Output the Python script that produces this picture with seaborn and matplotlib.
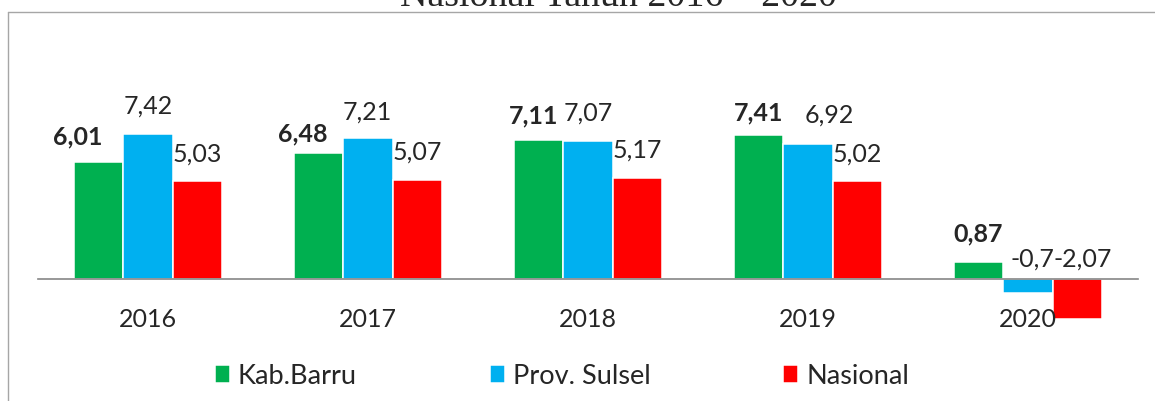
import pandas as pd
import numpy as np

import matplotlib.pyplot as plt
from matplotlib.lines import Line2D
import seaborn as sns

import warnings
warnings.filterwarnings('ignore')

# data
tahun = ['2016', '2017', '2018', '2019', '2020']
kab_barru = [6.01, 6.48, 7.11, 7.41, 0.87]
prov_sulsel = [7.42, 7.21, 7.07, 6.92, -0.70]
nasional = [5.03, 5.07, 5.17, 5.02, -2.07]
label_kab = ['6,01', '6,48', '7,11', '7,41', '0,87']
label_prov = ['7,42', '7,21', '7,07', '6,92', '-0,7']
label_nas = ['5,03', '5,07', '5,17', '5,02', '-2,07']
wilayah = ['Kab.Barru', 'Prov. Sulsel', 'Nasional']
warna = ['#00B050', '#00B0F0', '#FF0000']

df = pd.DataFrame({
    'tahun': tahun * 3,
    'nilai': kab_barru + prov_sulsel + nasional,
    'wilayah': [w for w in wilayah for _ in tahun],
})

sns.set_style('white')
plt.rcParams['font.family'] = ['Lato', 'DejaVu Sans']

fig = plt.figure(figsize=(11.55, 4.01), dpi=100)
ax = fig.add_axes([38 / 1155, 1 - 330 / 401, 1100 / 1155, 290 / 401])

sns.barplot(data=df, x='tahun', y='nilai', hue='wilayah', hue_order=wilayah,
            palette=warna, saturation=1, width=0.67, edgecolor='white',
            linewidth=1.1, errorbar=None, ax=ax)

ax.set_xlim(-0.5, 4.5)
ax.set_ylim(-2.615, 12.256)
ax.set_xlabel('')
ax.set_ylabel('')
ax.set_yticks([])
ax.set_axisbelow(False)
for s in ['top', 'right', 'left']:
    ax.spines[s].set_visible(False)
ax.spines['bottom'].set_position(('data', 0))
ax.spines['bottom'].set_color('#868686')
ax.spines['bottom'].set_linewidth(1.2)
ax.tick_params(axis='x', length=0, pad=21, labelsize=18)

# label offsets in pixels (dx, gap above bar)
geser = [
    [(-21, 17), (-16, 11), (-5, 17), (0, 14), (-1, 21)],
    [(0, 21), (-1, 19), (0, 21), (21, 21), (4, 12)],
    [(0, 19), (0, 21), (0, 21), (0, 20), (6, 12)],
]
teks = [label_kab, label_prov, label_nas]
for k, cont in enumerate(ax.containers):
    for i, bar in enumerate(cont):
        v = bar.get_height()
        xc = bar.get_x() + bar.get_width() / 2
        dx, dy = geser[k][i]
        ax.annotate(teks[k][i], (xc, max(v, 0)), xytext=(dx, dy),
                    textcoords='offset pixels', ha='center', va='baseline',
                    fontsize=18, fontweight='bold' if k == 0 else 'normal')

sns.move_legend(ax, 'center', bbox_to_anchor=(562 / 1155, 1 - 376 / 401),
                bbox_transform=fig.transFigure, ncol=3, frameon=False,
                title=None, fontsize=19.5, handlelength=0.55, handleheight=0.6,
                handletextpad=0.3, columnspacing=4.9)

# frame
fig.add_artist(Line2D([8 / 1155, 8 / 1155], [0, 1 - 12 / 401],
                      transform=fig.transFigure, color='#A6A6A6', lw=1))
fig.add_artist(Line2D([8 / 1155, 1], [1 - 12 / 401, 1 - 12 / 401],
                      transform=fig.transFigure, color='#A6A6A6', lw=1))

fig.text(618 / 1155, 1 - 6 / 401, 'Nasional Tahun 2016 – 2020', ha='center',
         va='baseline', family='Liberation Serif', fontsize=27.3)

fig.savefig('out.png', dpi=100)
